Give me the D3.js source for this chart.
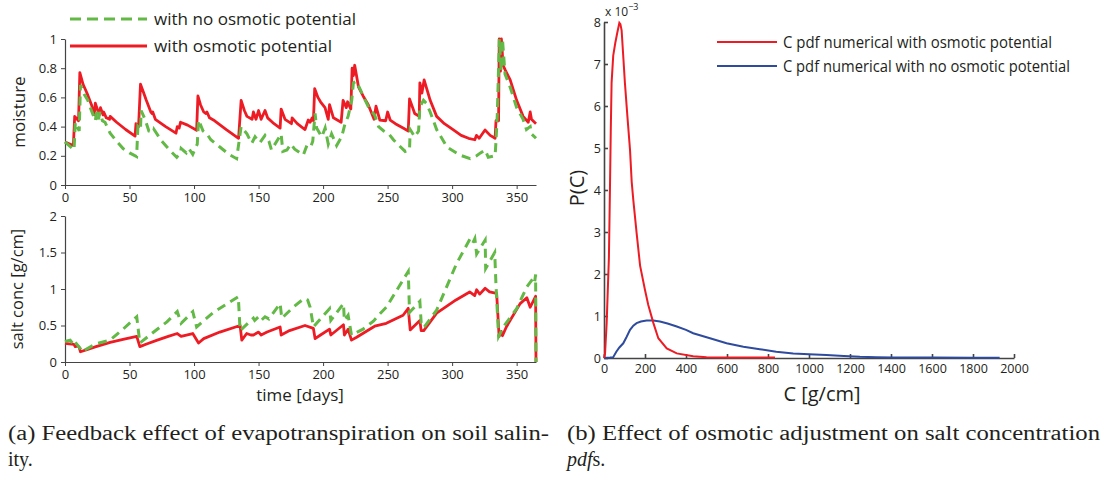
<!DOCTYPE html>
<html>
<head>
<meta charset="utf-8">
<script src="https://cdn.jsdelivr.net/npm/d3@7"></script>
<style>
  body { margin: 0; background: #fff; }
  svg text { font-family: "Open Sans", sans-serif; fill: #231f20; }
  .axis path, .axis line { stroke: #444; }
  .axis text { font-family: "Open Sans", sans-serif; fill: #231f20; }
</style>
</head>
<body>
<div id="container"></div>
<script>
// moisture series [day, value]
const moistOsmotic = [[0,0.295],[6.5,0.27],[7.5,0.47],[10.5,0.44],[11.5,0.77],[14,0.69],[17,0.63],[20.5,0.55],[22.7,0.48],[23.5,0.56],[26.5,0.48],[27.5,0.53],[29.5,0.48],[30,0.5],[32,0.46],[34.5,0.45],[35,0.47],[40,0.43],[47,0.38],[54.3,0.335],[55,0.42],[57,0.40],[58.5,0.69],[61,0.63],[63,0.58],[66.5,0.5],[67.5,0.49],[68,0.5],[70,0.45],[78,0.4],[86,0.355],[87,0.4],[88.5,0.39],[89.5,0.43],[95,0.41],[102,0.375],[103,0.61],[105,0.55],[107.5,0.5],[109,0.49],[110,0.5],[112,0.46],[116,0.44],[125,0.38],[134.5,0.32],[135.5,0.45],[136.5,0.58],[139,0.51],[141,0.47],[145,0.45],[146,0.5],[148,0.45],[150,0.51],[152,0.45],[155,0.51],[157,0.46],[162,0.42],[166.7,0.39],[167.5,0.52],[170.5,0.45],[175.5,0.42],[176,0.46],[180,0.42],[186,0.38],[188.5,0.445],[190,0.43],[191.5,0.46],[192.5,0.44],[193.5,0.66],[196,0.6],[198,0.57],[201.5,0.53],[204,0.45],[205,0.55],[208,0.46],[214,0.43],[215.5,0.58],[218,0.53],[219,0.57],[221.5,0.52],[222.5,0.80],[223.5,0.75],[224.5,0.82],[227.5,0.67],[231,0.61],[235,0.55],[239.5,0.45],[241,0.54],[244,0.445],[248.5,0.44],[250,0.50],[252,0.445],[256,0.42],[262,0.39],[266,0.37],[267,0.59],[271,0.49],[274.5,0.47],[275,0.70],[276.6,0.63],[278.3,0.72],[283,0.58],[288,0.47],[294,0.42],[301,0.377],[307,0.34],[312.7,0.32],[317.6,0.31],[318.9,0.34],[321,0.32],[325.5,0.377],[329.5,0.34],[333.3,0.32],[334,0.44],[336,0.44],[336.5,1.0],[337.5,0.78],[338.2,1.0],[339.5,0.82],[341,0.79],[345,0.72],[350,0.58],[355,0.47],[359,0.43],[360.5,0.50],[361.5,0.45],[365,0.42]];
const moistNoOsmotic = [[0,0.295],[7,0.24],[8,0.43],[11,0.37],[12,0.685],[15,0.62],[17.7,0.58],[20,0.52],[22.7,0.46],[23.5,0.44],[24.5,0.5],[26,0.45],[27,0.5],[29,0.44],[31,0.43],[35,0.354],[40,0.3],[45,0.25],[50,0.22],[55.5,0.194],[56.5,0.40],[58.5,0.38],[59,0.51],[62,0.45],[65,0.37],[68.5,0.36],[69,0.38],[75,0.3],[81,0.24],[86.6,0.19],[89.5,0.22],[90,0.25],[94,0.22],[96,0.25],[99,0.21],[102.5,0.28],[103.5,0.445],[107,0.37],[110,0.35],[113,0.31],[120,0.26],[127,0.21],[133,0.18],[136.5,0.40],[141,0.35],[144.7,0.285],[147.3,0.33],[151,0.29],[155,0.34],[158,0.3],[160,0.24],[167.5,0.35],[168.8,0.23],[172,0.24],[175,0.28],[178,0.245],[184.7,0.205],[187,0.26],[190,0.25],[192,0.3],[193.8,0.49],[195,0.39],[199,0.33],[201.6,0.39],[204,0.28],[206.6,0.35],[210.5,0.27],[214.4,0.33],[217,0.42],[219.4,0.47],[222.2,0.58],[223.5,0.70],[226,0.71],[231,0.61],[236,0.52],[240,0.48],[243,0.40],[247,0.37],[251,0.35],[254.5,0.31],[259,0.27],[263.6,0.23],[267,0.24],[267.5,0.38],[271,0.33],[274,0.37],[275,0.535],[277.8,0.58],[280,0.56],[283,0.5],[288,0.38],[296,0.26],[306,0.205],[314,0.18],[319,0.20],[322,0.22],[325.6,0.24],[328,0.19],[333.3,0.20],[334,0.30],[335,0.48],[336.6,1.0],[338,0.78],[339,1.0],[341,0.76],[345,0.67],[350,0.53],[355,0.45],[357.6,0.38],[360.5,0.40],[361.5,0.35],[365,0.32]];

// salt concentration series [day, g/cm]
const saltOsmotic = [[0,0.256],[7,0.24],[8,0.21],[10,0.22],[11,0.2],[12,0.14],[17,0.17],[24,0.21],[35,0.27],[45,0.31],[55.6,0.35],[58,0.21],[63.8,0.25],[71.5,0.30],[80,0.35],[87,0.39],[90,0.35],[99,0.39],[103.5,0.26],[107.5,0.32],[120,0.41],[135.7,0.50],[137,0.30],[140.8,0.39],[144,0.37],[146,0.37],[150,0.41],[152,0.37],[156.6,0.41],[166.7,0.48],[167.5,0.37],[174,0.43],[186,0.50],[192.5,0.46],[193.8,0.32],[198,0.37],[205,0.45],[206,0.37],[215.8,0.51],[216.5,0.37],[219.4,0.45],[222,0.30],[226,0.34],[239,0.48],[240,0.49],[249,0.53],[262,0.64],[266,0.735],[267.5,0.44],[275,0.57],[276,0.43],[278,0.43],[288,0.67],[303,0.85],[313.6,0.96],[317.5,0.91],[319,0.99],[321.4,0.93],[325.6,1.01],[329,0.96],[334.5,0.94],[336.4,0.35],[338,0.42],[339,0.36],[342,0.48],[352.7,0.80],[357.9,0.88],[360.5,0.75],[364.7,0.90],[365,0]];
const saltNoOsmotic = [[0,0.28],[4,0.30],[7,0.23],[8,0.27],[12,0.18],[13,0.14],[24,0.25],[35,0.30],[45,0.45],[55.6,0.62],[58,0.26],[68,0.40],[79,0.55],[87,0.69],[90,0.53],[99,0.69],[102,0.48],[115,0.68],[134.3,0.895],[135.7,0.43],[146,0.60],[147,0.57],[150,0.62],[152,0.57],[155,0.62],[158,0.59],[166.7,0.80],[168,0.6],[177.5,0.76],[185.3,0.87],[188,0.85],[190,0.75],[192.5,0.48],[205,0.73],[206,0.57],[215.8,0.80],[216.5,0.57],[219.4,0.64],[222,0.37],[231,0.45],[239,0.56],[244,0.66],[249,0.75],[266,1.24],[267,0.68],[275,0.83],[276,0.54],[278,0.47],[288,0.71],[303.5,1.35],[314,1.69],[316,1.63],[317.6,1.69],[319,1.48],[325.6,1.67],[326,1.28],[333,1.5],[334,1.05],[336,0.35],[340,0.49],[350,0.73],[357.9,1.03],[363,1.15],[364,1.1],[364.7,1.2],[365,0]];

// pdf curves (P in units of 1e-3)
const pdfOsmoticC = [0,5,13,24,29,33,37,45,55,65,75,80,86,95,102,115,127,135,143,159,176,200,216,241,265,306,355,435,500,600,834];
const pdfOsmoticP = [0,0.1,0.83,2.4,4.0,5.4,6.55,7.2,7.5,7.75,7.98,7.95,7.8,7.1,6.55,5.7,4.95,4.2,3.76,2.98,2.2,1.62,1.26,0.83,0.47,0.23,0.11,0.04,0.02,0.01,0.01];
const pdfNoOsmoticC = [0,30,45,60,75,94,110,127,143,159,180,208,240,273,310,355,400,435,517,598,680,760,840,923,1000,1085,1170,1248,1330,1410,1600,1800,1930];
const pdfNoOsmoticP = [0,0.01,0.02,0.15,0.25,0.35,0.5,0.67,0.77,0.83,0.87,0.89,0.89,0.87,0.82,0.75,0.67,0.59,0.47,0.35,0.27,0.21,0.15,0.11,0.09,0.07,0.05,0.03,0.02,0.01,0.01,0.005,0.005];

const dayTicks = [0, 50, 100, 150, 200, 250, 300, 350];
const moistTicks = [0, 0.2, 0.4, 0.6, 0.8, 1];
const saltTicks = [0, 0.5, 1, 1.5, 2];
const cTicks = d3.range(0, 2001, 200);
const pTicks = d3.range(0, 9, 1);

const RED = "#ed1c24", GREEN = "#62b946", BLUE = "#2e4b9e";

const svg = d3.select("#container").append("svg")
  .attr("width", 1105).attr("height", 477);

// scales
const xDay = d3.scaleLinear().domain([0, 365]).range([65, 536]);
const yMoist = d3.scaleLinear().domain([0, 1]).range([185, 39]);
const ySalt = d3.scaleLinear().domain([0, 2]).range([362, 216]);
const xC = d3.scaleLinear().domain([0, 2000]).range([604, 1014]);
const yP = d3.scaleLinear().domain([0, 8]).range([358, 22]);

function styleAxis(g, size) {
  g.attr("class", "axis");
  g.selectAll("text").style("font-size", size + "px");
  g.select(".domain").attr("stroke-width", 1.2);
}

// left top axes
svg.append("g").attr("transform", "translate(0,185)")
  .call(d3.axisBottom(xDay).tickValues(dayTicks).tickSize(4).tickSizeOuter(0).tickPadding(4))
  .call(g => styleAxis(g, 13));
svg.append("g").attr("transform", "translate(65,0)")
  .call(d3.axisLeft(yMoist).tickValues(moistTicks).tickSize(4).tickSizeOuter(0).tickPadding(4).tickFormat(d3.format("~g")))
  .call(g => styleAxis(g, 13));

// left bottom axes
svg.append("g").attr("transform", "translate(0,362)")
  .call(d3.axisBottom(xDay).tickValues(dayTicks).tickSize(4).tickSizeOuter(0).tickPadding(4))
  .call(g => styleAxis(g, 13));
svg.append("g").attr("transform", "translate(65,0)")
  .call(d3.axisLeft(ySalt).tickValues(saltTicks).tickSize(4).tickSizeOuter(0).tickPadding(4).tickFormat(d3.format("~g")))
  .call(g => styleAxis(g, 13));

// right axes (ticks pointing inward)
svg.append("g").attr("transform", "translate(0,358)")
  .call(d3.axisBottom(xC).tickValues(cTicks).tickSize(-4).tickSizeOuter(0).tickPadding(6).tickFormat(d3.format("d")))
  .call(g => styleAxis(g, 12.5))
  .call(g => g.selectAll("path, line").attr("stroke", "#777").attr("stroke-width", 1.6));
svg.append("g").attr("transform", "translate(604,0)")
  .call(d3.axisLeft(yP).tickValues(pTicks).tickSize(-4).tickSizeOuter(0).tickPadding(3))
  .call(g => styleAxis(g, 12.5))
  .call(g => g.selectAll("path, line").attr("stroke", "#777").attr("stroke-width", 1.6));

// lines
const dayLine = y => d3.line().x(d => xDay(d[0])).y(d => y(d[1]));

function drawPair(osm, noOsm, y) {
  svg.append("path").datum(osm)
    .attr("fill", "none").attr("stroke", RED).attr("stroke-width", 2.8)
    .attr("stroke-linejoin", "round").attr("d", dayLine(y));
  svg.append("path").datum(noOsm)
    .attr("fill", "none").attr("stroke", GREEN).attr("stroke-width", 3)
    .attr("stroke-dasharray", "9,6").attr("d", dayLine(y));
}
drawPair(moistOsmotic, moistNoOsmotic, yMoist);
drawPair(saltOsmotic, saltNoOsmotic, ySalt);

const pdfLine = d3.line().x(d => xC(d[0])).y(d => yP(d[1]));
svg.append("path").datum(pdfNoOsmoticC.map((c, i) => [c, pdfNoOsmoticP[i]]))
  .attr("fill", "none").attr("stroke", BLUE).attr("stroke-width", 2).attr("d", pdfLine);
svg.append("path").datum(pdfOsmoticC.map((c, i) => [c, pdfOsmoticP[i]]))
  .attr("fill", "none").attr("stroke", RED).attr("stroke-width", 2).attr("d", pdfLine);

// left legend
svg.append("line").attr("x1", 70).attr("x2", 147).attr("y1", 19).attr("y2", 19)
  .attr("stroke", GREEN).attr("stroke-width", 3).attr("stroke-dasharray", "11,6");
svg.append("text").attr("x", 154).attr("y", 24.5).style("font-size", "16.5px")
  .attr("textLength", 202).attr("lengthAdjust", "spacingAndGlyphs")
  .text("with no osmotic potential");
svg.append("line").attr("x1", 70).attr("x2", 147).attr("y1", 46).attr("y2", 46)
  .attr("stroke", RED).attr("stroke-width", 3);
svg.append("text").attr("x", 154).attr("y", 51.5).style("font-size", "16.5px")
  .attr("textLength", 178).attr("lengthAdjust", "spacingAndGlyphs")
  .text("with osmotic potential");

// right legend
svg.append("line").attr("x1", 717).attr("x2", 777).attr("y1", 42).attr("y2", 42)
  .attr("stroke", RED).attr("stroke-width", 2);
svg.append("text").attr("x", 783).attr("y", 48).style("font-size", "16px")
  .attr("textLength", 269).attr("lengthAdjust", "spacingAndGlyphs")
  .text("C pdf numerical with osmotic potential");
svg.append("line").attr("x1", 717).attr("x2", 777).attr("y1", 66).attr("y2", 66)
  .attr("stroke", BLUE).attr("stroke-width", 2);
svg.append("text").attr("x", 783).attr("y", 72).style("font-size", "16px")
  .attr("textLength", 287).attr("lengthAdjust", "spacingAndGlyphs")
  .text("C pdf numerical with no osmotic potential");

// axis labels
svg.append("text").attr("transform", "translate(25,112) rotate(-90)")
  .attr("text-anchor", "middle").style("font-size", "17px").text("moisture");
svg.append("text").attr("transform", "translate(23,289) rotate(-90)")
  .attr("text-anchor", "middle").style("font-size", "16.5px").text("salt conc [g/cm]");
svg.append("text").attr("x", 300).attr("y", 401)
  .attr("text-anchor", "middle").style("font-size", "17px").text("time [days]");
svg.append("text").attr("x", 822).attr("y", 401)
  .attr("text-anchor", "middle").style("font-size", "20px").text("C [g/cm]");
svg.append("text").attr("transform", "translate(584,188) rotate(-90)")
  .attr("text-anchor", "middle").style("font-size", "20px").text("P(C)");

// exponent
const ex = svg.append("text").attr("x", 605).attr("y", 16).style("font-size", "12px");
ex.append("tspan").text("x 10");
ex.append("tspan").attr("dy", -6).style("font-size", "9px").text("−3");

// captions
const cap = svg.append("g").style("font-size", "20px");
cap.append("text").attr("x", 8).attr("y", 440).style("font-family", "'Liberation Serif', serif")
  .attr("textLength", 541).attr("lengthAdjust", "spacingAndGlyphs")
  .text("(a) Feedback effect of evapotranspiration on soil salin-");
cap.append("text").attr("x", 8).attr("y", 466).style("font-family", "'Liberation Serif', serif")
  .text("ity.");
cap.append("text").attr("x", 567).attr("y", 440).style("font-family", "'Liberation Serif', serif")
  .attr("textLength", 533).attr("lengthAdjust", "spacingAndGlyphs")
  .text("(b) Effect of osmotic adjustment on salt concentration");
const pdfs = cap.append("text").attr("x", 567).attr("y", 466).style("font-family", "'Liberation Serif', serif");
pdfs.append("tspan").style("font-style", "italic").text("pdf");
pdfs.append("tspan").text("s.");
</script>
</body>
</html>
